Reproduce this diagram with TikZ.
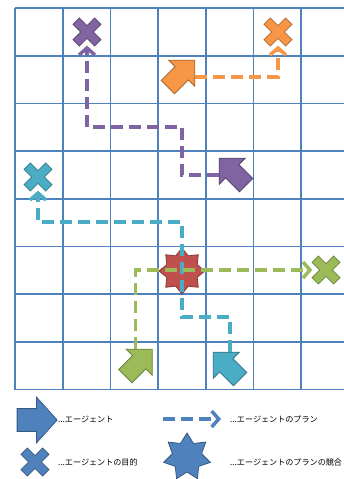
\documentclass[tikz,border=0pt]{standalone}
\usepackage{fontspec}
\setmainfont{Noto Sans CJK JP}
\usepackage{tikz}
\usetikzlibrary{arrows.meta, positioning, shapes.geometric, shapes.arrows}

\definecolor{gridblue}{HTML}{4F81BD}
\definecolor{lblue}{HTML}{4F81BD}
\definecolor{apurple}{HTML}{8064A2}
\definecolor{aorange}{HTML}{F79646}
\definecolor{ateal}{HTML}{4BACC6}
\definecolor{agreen}{HTML}{9BBB59}
\definecolor{ared}{HTML}{C0504D}

\tikzset{
  pics/cross/.style={code={
    \filldraw[fill=#1, draw=#1!70!black, line width=0.8pt, rotate=45]
      (-4.5,-15.3) -- (4.5,-15.3) -- (4.5,-4.5) -- (15.3,-4.5) -- (15.3,4.5)
      -- (4.5,4.5) -- (4.5,15.3) -- (-4.5,15.3) -- (-4.5,4.5) -- (-15.3,4.5)
      -- (-15.3,-4.5) -- (-4.5,-4.5) -- cycle;
  }}
}

\begin{document}
\begin{tikzpicture}[x=1pt, y=-1pt,
  agent/.style={single arrow, draw=#1!70!black, fill=#1, line width=0.8pt,
    inner xsep=0pt, inner ysep=9pt, minimum height=38pt,
    single arrow head extend=9pt, single arrow tip angle=90},
  goal/.style={circle, inner sep=0pt, minimum size=27pt},
  plan/.style={draw=#1, line width=3.5pt, dash pattern=on 12pt off 6pt,
    -{Straight Barb[length=7pt, width=16pt]}},
  clash/.style={star, draw=#1!70!black, fill=#1, line width=0.8pt, inner sep=0pt},
  legendtext/.style={anchor=west, inner sep=0pt, font=\fontsize{8.1}{10}\selectfont}]

  \useasboundingbox (0,0) rectangle (344,479);

  % grid
  \foreach \i in {0,...,6}
    \draw[gridblue, line width=1.6pt] ({15+47.7*\i},8) -- ({15+47.7*\i},389.6);
  \foreach \j in {0,...,8}
    \draw[gridblue, line width=1.6pt] (15,{8+47.7*\j}) -- (344,{8+47.7*\j});

  % conflict of plans
  \node[clash=ared, star points=8, star point ratio=1.4, minimum size=46pt] (conflict) at (182,271) {};

  % agents
  \node[agent=aorange, rotate=45] (oa) at (178,77) {};
  \node[agent=apurple, rotate=135] (pa) at (236,175) {};
  \node[agent=agreen, rotate=45] (ga) at (135.5,366) {};
  \node[agent=ateal, rotate=135] (ta) at (230,369) {};

  % goals
  \node[goal] (og) at (278,32) {};
  \node[goal] (pg) at (87,32) {};
  \node[goal] (tg) at (38,177) {};
  \node[goal] (gg) at (326,270) {};
  \pic at (og) {cross=aorange};
  \pic at (pg) {cross=apurple};
  \pic at (tg) {cross=ateal};
  \pic at (gg) {cross=agreen};

  % plans
  \coordinate (pc) at (182,127);
  \coordinate (tc1) at (182,317);
  \coordinate (tc2) at (38,222);
  \draw[plan=aorange] (oa) -| (og);
  \draw[plan=apurple] (pa) -| (pc) -| (pg);
  \draw[plan=ateal] (ta) |- (tc1) |- (tc2) -- (tg);
  \draw[plan=agreen] (ga) |- (gg);

  % legend
  \node[agent=lblue, minimum height=40pt, inner ysep=11pt,
    single arrow head extend=11.5pt, single arrow tip angle=96] (lagent) at (32,420) {};
  \node[legendtext] (lagenttext) at (58,419) {...エージェント};
  \coordinate (lplanA) at (163,419);
  \coordinate (lplanB) at (221,419);
  \draw[plan=lblue] (lplanA) -- (lplanB);
  \node[legendtext] (lplantext) at (230,419) {...エージェントのプラン};
  \node[goal] (lgoal) at (35,462) {};
  \pic at (lgoal) {cross=lblue};
  \node[legendtext] (lgoaltext) at (58,462) {...エージェントの目的};
  \node[clash=lblue, star points=7, star point ratio=1.6, minimum size=48pt] (lclash) at (187,457) {};
  \node[legendtext] (lclashtext) at (230,462) {...エージェントのプランの競合};
\end{tikzpicture}
\end{document}
